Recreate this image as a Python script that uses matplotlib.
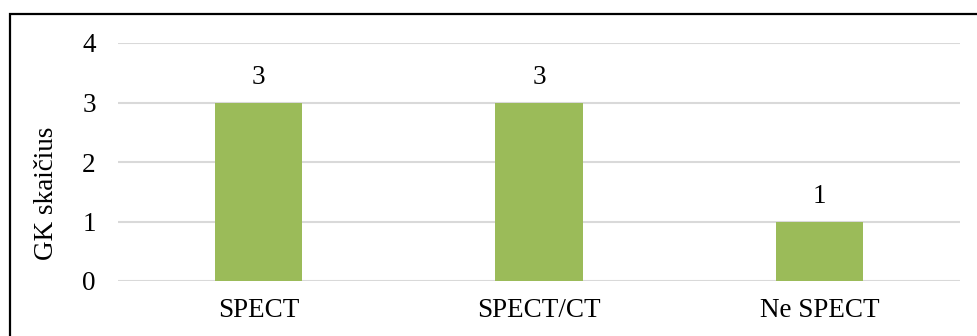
import matplotlib.pyplot as plt
from matplotlib.patches import Rectangle

categories = ["SPECT", "SPECT/CT", "Ne SPECT"]
counts = [3, 3, 1]
y_ticks = [0, 1, 2, 3, 4]

plt.rcParams['font.family'] = ['Liberation Serif', 'DejaVu Serif']
FS = 19.5

fig = plt.figure(figsize=(9.78, 3.36), dpi=100)
ax = fig.add_axes([118 / 978, 1 - 281 / 336, (960 - 118) / 978, (281 - 43) / 336])

x = range(len(categories))
bars = ax.bar(x, counts, width=0.31, color="#9BBB59", zorder=3)
for rect, val in zip(bars, counts):
    ax.annotate(str(val), (rect.get_x() + rect.get_width() / 2, val),
                xytext=(0, 9), textcoords="offset points",
                ha="center", va="bottom", fontsize=FS)

ax.set_xlim(-0.5, len(categories) - 0.5)
ax.set_ylim(0, 4)
ax.set_yticks(y_ticks)
ax.set_xticks(list(x))
ax.set_xticklabels(categories)
ax.tick_params(axis="both", length=0, labelsize=FS)
ax.tick_params(axis="y", pad=16)
ax.tick_params(axis="x", pad=12)
ax.yaxis.grid(True, color="#D9D9D9", linewidth=1.5, zorder=0)
ax.set_axisbelow(True)
for s in ax.spines.values():
    s.set_visible(False)
ax.set_ylabel("GK skaičius", fontsize=FS)
ax.yaxis.set_label_coords(-0.07, 0.37)

# outer frame, runs off the right and bottom edges
fig.patches.append(Rectangle((10 / 978, -0.1), 1.2, 1 - 14 / 336 + 0.1,
                             transform=fig.transFigure, fill=False,
                             edgecolor="black", linewidth=1.6))

fig.savefig("out.png", dpi=100)
